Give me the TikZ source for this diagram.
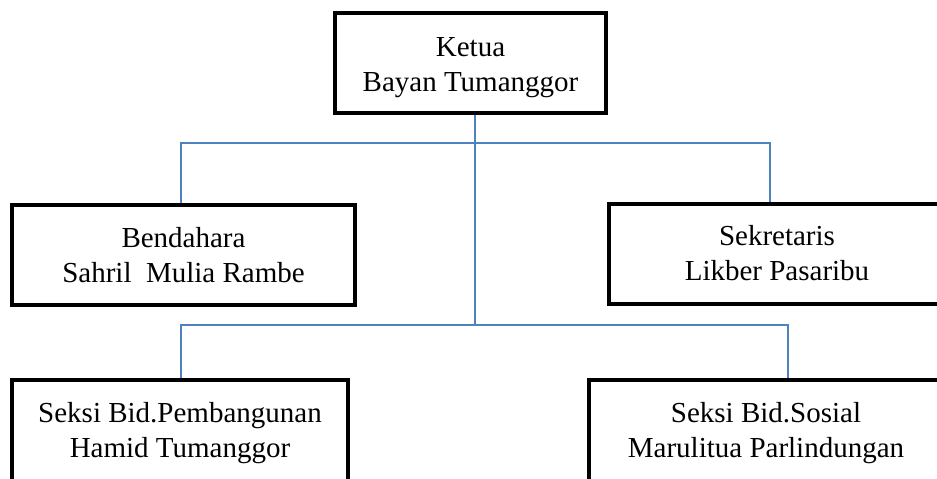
\documentclass[tikz,border=0pt]{standalone}
\usepackage{fontspec}
\setmainfont{Liberation Serif}
\usetikzlibrary{calc}
\definecolor{linkblue}{RGB}{79,129,189}

\begin{document}
\begin{tikzpicture}[
    x = 1pt, y = -1pt,
    box/.style = {draw, line width=4pt, minimum height=100pt,
        inner sep=0pt, outer sep=2pt, align=center, fill=white,
        font=\fontsize{29}{35}\selectfont},
    link/.style = {draw=linkblue, line width=1.5pt}
  ]
  \useasboundingbox (0,0) rectangle (937,479);
  \clip (0,0) rectangle (937,479);

  \coordinate (trunk) at (475,143);
  \coordinate (mid) at (475,325);
  \coordinate (upL) at (181,143);
  \coordinate (upR) at (770,143);
  \coordinate (lowL) at (181,325);
  \coordinate (lowR) at (788,325);

  \node[box, minimum width=271pt] (ketua) at (470.5,62.5) {\rule{0pt}{29pt}Ketua\\Bayan Tumanggor};
  \node[box, minimum width=343pt] (bendahara) at (183.5,255) {Bendahara\\Sahril\ \ Mulia Rambe};
  \node[box, minimum width=336pt] (sekretaris) at (777,253.5) {Sekretaris\\Likber Pasaribu};
  \node[box, minimum width=336pt, minimum height=106pt] (pembangunan) at (180,433) {Seksi Bid.Pembangunan\\Hamid Tumanggor};
  \node[box, minimum width=354pt, minimum height=106pt] (sosial) at (766,433) {Seksi Bid.Sosial\\Marulitua Parlindungan};

  \draw[link] (ketua.south -| trunk) -- (mid);
  \draw[link] (upL |- bendahara.north) -- (upL) -- (upR) -- (upR |- sekretaris.north);
  \draw[link] (lowL |- pembangunan.north) -- (lowL) -- (lowR) -- (lowR |- sosial.north);
\end{tikzpicture}
\end{document}
